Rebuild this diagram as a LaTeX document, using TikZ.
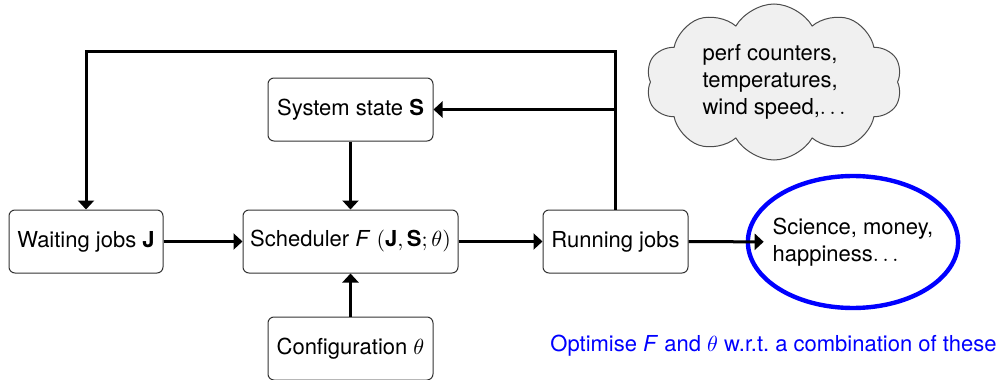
\documentclass[tikz,border=0pt]{standalone}
\usepackage{amsmath}
\usepackage{fontspec}
\setmainfont{TeX Gyre Heros}
\usepackage{tikz}
\usetikzlibrary{arrows.meta,shapes.geometric,shapes.symbols,positioning}

\begin{document}
\begin{tikzpicture}[x=0.5pt,y=-0.5pt,
    every node/.style={font=\fontsize{11}{13.5}\selectfont},
    box/.style={draw=black!80, line width=0.5pt, rounded corners=3pt, minimum height=31.5pt, inner sep=2pt},
    flow/.style={line width=1.5pt, -{Triangle[length=4.5pt,width=8pt]}}]
        \useasboundingbox (0,0) rectangle (1003,380);

        % Boxes
        \node[box, minimum width=77pt] (waiting) at (86,241.5) {Waiting jobs \textbf{J}};
        \node[box, minimum width=107.5pt] (sched) at (350.5,241.5) {Scheduler \textit{F} $(\textbf{J},\textbf{S};\theta)$};
        \node[box, minimum width=82.5pt] (state) at (350.5,109.5) {System state \textbf{S}};
        \node[box, minimum width=82.5pt] (config) at (350.5,348.5) {Configuration $\theta$};
        \node[box, minimum width=72.5pt] (running) at (615.5,241.5) {Running jobs};

        % Outcome and sensors
        \node[ellipse, draw=blue, line width=2.2pt, inner xsep=-3pt, inner ysep=0pt, minimum height=66pt, align=left] (goals) at (853,242) {Science, money,\\happiness$\ldots$};
        \node[cloud, draw=black!70, fill=black!6, line width=0.5pt, cloud puffs=10, cloud puff arc=120, aspect=1.7, minimum width=128pt, minimum height=78pt, align=left, inner sep=0pt] (sensors) at (774,82) {perf counters,\\temperatures,\\wind speed,$\ldots$};

        \node[blue] (note) at (773.5,346) {Optimise \textit{F} and $\theta$ w.r.t.\ a combination of these};

        % Feedback loop
        \coordinate (loopR) at (615.5,51);
        \coordinate (loopL) at (86,51);
        \coordinate (tap) at (running.north |- state.east);

        \draw[flow] (waiting) -- (sched);
        \draw[flow] (sched) -- (running);
        \draw[flow, shorten >=-9pt] (running) -- (goals);
        \draw[flow] (state) -- (sched);
        \draw[flow] (config) -- (sched);
        \draw[flow] (running.north) -- (loopR) -- (loopL) -- (waiting.north);
        \draw[flow] (tap) -- (state.east);
    \end{tikzpicture}
\end{document}
